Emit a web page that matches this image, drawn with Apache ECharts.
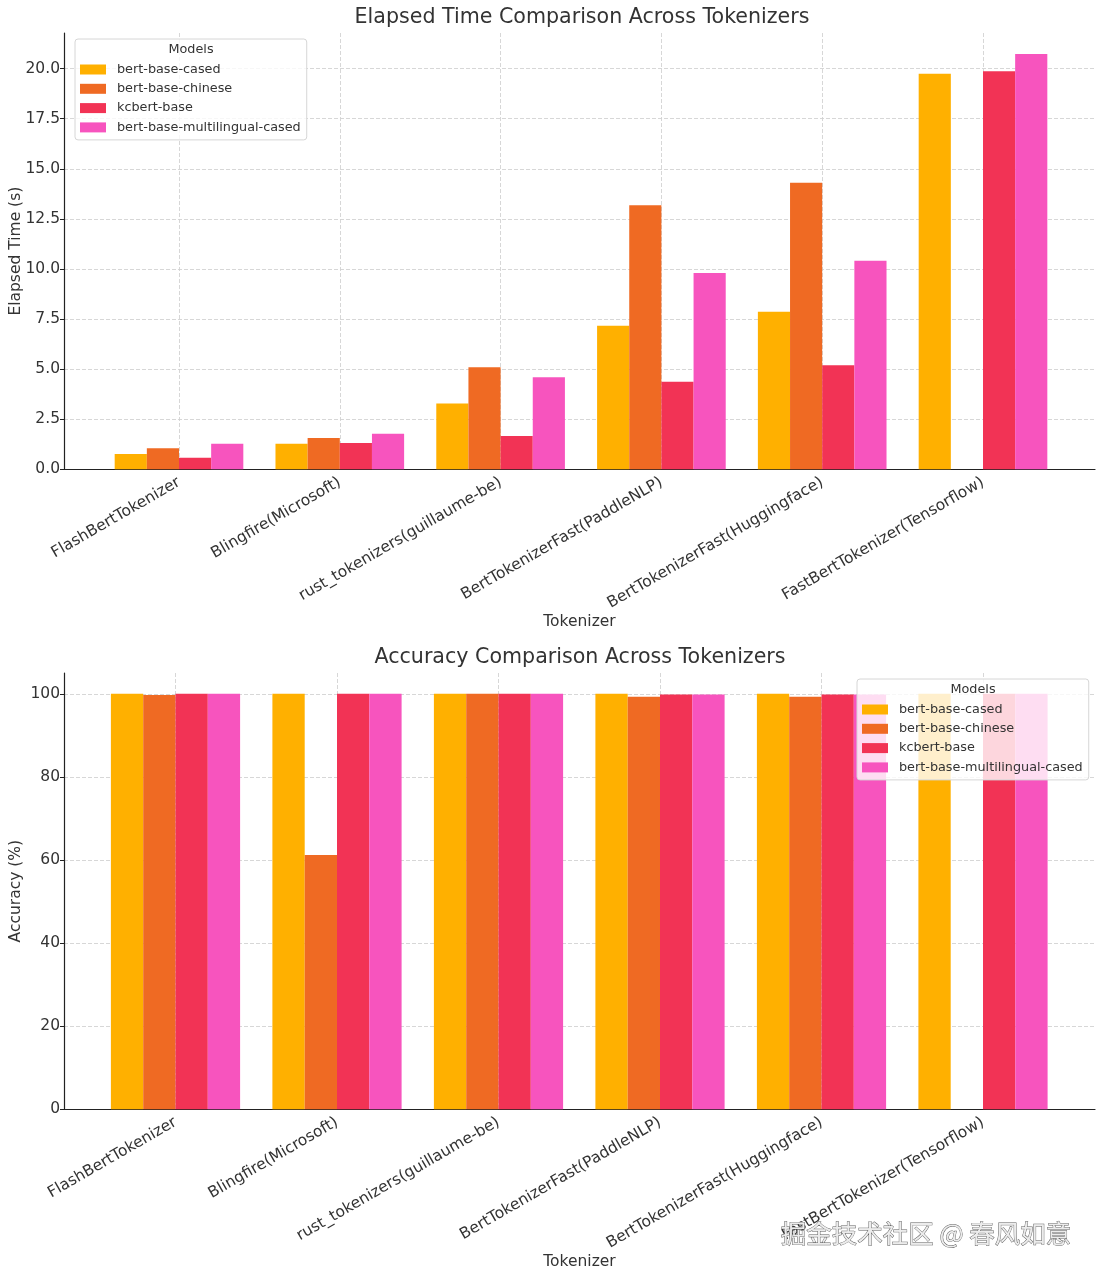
<!DOCTYPE html>
<html>
<head>
<meta charset="utf-8">
<script src="https://cdn.jsdelivr.net/npm/echarts@6/dist/echarts.min.js"></script>
<style>
html,body{margin:0;padding:0;background:#fff;}
#chart{width:1103px;height:1280px;}
</style>
</head>
<body>
<div id="chart"></div>
<script>
// ---------- data ----------
var categories = ['FlashBertTokenizer', 'Blingfire(Microsoft)', 'rust_tokenizers(guillaume-be)', 'BertTokenizerFast(PaddleNLP)', 'BertTokenizerFast(Huggingface)', 'FastBertTokenizer(Tensorflow)'];
var models = ['bert-base-cased', 'bert-base-chinese', 'kcbert-base', 'bert-base-multilingual-cased'];
var modelColors = ['#FFB000', '#EF6A23', '#F23355', '#F754BE'];

var elapsedCased    = [0.77, 1.28, 3.29, 7.17, 7.87, 19.75];
var elapsedChinese  = [1.05, 1.56, 5.09, 13.18, 14.31, null];
var elapsedKcbert   = [0.58, 1.31, 1.66, 4.37, 5.19, 19.87];
var elapsedMulti    = [1.28, 1.78, 4.59, 9.80, 10.41, 20.73];

var accuracyCased   = [100, 100, 100, 100, 100, 100];
var accuracyChinese = [99.7, 61.2, 100, 99.3, 99.3, null];
var accuracyKcbert  = [100, 100, 100, 99.8, 99.8, 100];
var accuracyMulti   = [100, 100, 100, 99.8, 99.8, 100];

var elapsedTicks = { min: 0, max: 21.78, interval: 2.5 };
var accuracyTicks = { min: 0, max: 105, interval: 20 };
// category-index range covered by the full frame (category i sits at i)
var elapsedFrameRange = { min: -0.715, max: 5.697 };
var accuracyFrameRange = { min: -0.690, max: 5.694 };

var titles = ['Elapsed Time Comparison Across Tokenizers', 'Accuracy Comparison Across Tokenizers'];
var yNames = ['Elapsed Time (s)', 'Accuracy (%)'];
var xName = 'Tokenizer';
var legendTitle = 'Models';
var watermark = '掘金技术社区 @ 春风如意';

// ---------- style ----------
var FONT = 'DejaVu Sans';
var TXT = '#333';
var GRIDC = '#d2d2d2';
var TICKFS = 15.5;

var elapsedSeries = [elapsedCased, elapsedChinese, elapsedKcbert, elapsedMulti];
var accuracySeries = [accuracyCased, accuracyChinese, accuracyKcbert, accuracyMulti];

var grids = [
  { left: 64, right: 8, top: 33, height: 436.3, outerBoundsMode: 'none', containLabel: false },          // 0 top frame
  { left: 98.6, width: 964.8, top: 33, height: 436.3, outerBoundsMode: 'none', containLabel: false },     // 1 top bars
  { left: 64, right: 8, top: 673, height: 436.3, outerBoundsMode: 'none', containLabel: false },          // 2 bottom frame
  { left: 94.75, width: 969, top: 673, height: 436.3, outerBoundsMode: 'none', containLabel: false }      // 3 bottom bars
];

function frameX(gi, r) {
  return {
    type: 'value', gridIndex: gi, min: r.min, max: r.max,
    axisLine: { show: true, onZero: false, lineStyle: { color: '#222', width: 1.2 } },
    axisTick: { show: false }, axisLabel: { show: false },
    splitLine: { show: true, showMinLine: false, showMaxLine: false, lineStyle: { color: GRIDC, type: [4, 2], width: 0.9 } },
    name: xName, nameLocation: 'middle', nameGap: 145,
    nameTextStyle: { fontFamily: FONT, fontSize: TICKFS, color: TXT }
  };
}
function barX(gi) {
  return {
    type: 'category', gridIndex: gi, data: categories,
    axisLine: { show: false }, axisTick: { show: false }, splitLine: { show: false },
    axisLabel: { interval: 0, rotate: 30, margin: 12, fontFamily: FONT, fontSize: TICKFS, color: TXT }
  };
}
function frameY(gi, t, name, fmt, gap) {
  return {
    type: 'value', gridIndex: gi, min: t.min, max: t.max, interval: t.interval,
    axisLine: { show: true, onZero: false, lineStyle: { color: '#222', width: 1.2 } },
    axisTick: { show: true, length: 4, lineStyle: { color: '#222' } },
    axisLabel: { showMaxLabel: false, margin: 4, fontFamily: FONT, fontSize: TICKFS, color: TXT, formatter: fmt },
    splitLine: { show: true, showMaxLine: false, showMinLine: false, lineStyle: { color: GRIDC, type: [4, 2], width: 0.9 } },
    name: name, nameLocation: 'middle', nameGap: gap, nameMoveOverlap: false,
    nameTextStyle: { fontFamily: FONT, fontSize: TICKFS, color: TXT }
  };
}
function barY(gi, t) {
  return { type: 'value', gridIndex: gi, min: t.min, max: t.max, show: false, splitLine: { show: false } };
}

var series = [];
function addBars(arrs, xi, yi) {
  arrs.forEach(function (arr, k) {
    series.push({
      type: 'bar', name: models[k], xAxisIndex: xi, yAxisIndex: yi, data: arr,
      barGap: '0%', barCategoryGap: '20%',
      itemStyle: { color: modelColors[k] }, emphasis: { disabled: true }, animation: false
    });
  });
}
addBars(elapsedSeries, 1, 1);
addBars(accuracySeries, 3, 3);

function legendAt(left, top) {
  return {
    data: models, orient: 'vertical', left: left, top: top,
    padding: [23, 6, 5, 5], itemWidth: 26, itemHeight: 10, itemGap: 4.3,
    backgroundColor: 'rgba(255,255,255,0.8)', borderColor: '#d6d6d6', borderWidth: 1, borderRadius: 3,
    icon: 'rect', selectedMode: false,
    textStyle: { fontFamily: FONT, fontSize: 12.8, color: TXT, lineHeight: 15, padding: [0, 0, 0, 6] }
  };
}

function txt(x, y, s, size, extra) {
  var st = { text: s, fontFamily: FONT, fontSize: size, fill: TXT, textAlign: 'center', textVerticalAlign: 'middle', align: 'center', verticalAlign: 'middle' };
  if (extra) for (var k in extra) st[k] = extra[k];
  return { type: 'text', x: x, y: y, z: 100, silent: true, style: st };
}

var option = {
  backgroundColor: '#fff',
  animation: false,
  grid: grids,
  xAxis: [frameX(0, elapsedFrameRange), barX(1), frameX(2, accuracyFrameRange), barX(3)],
  yAxis: [
    frameY(0, elapsedTicks, yNames[0], function (v) { return v.toFixed(1); }, 40),
    barY(1, elapsedTicks),
    frameY(2, accuracyTicks, yNames[1], function (v) { return String(v); }, 40),
    barY(3, accuracyTicks)
  ],
  legend: [legendAt(75, 39), legendAt(857, 679)],
  series: series,
  graphic: [
    txt(582, 18, titles[0], 20.6),
    txt(580, 658, titles[1], 20.6),
    txt(191, 50, legendTitle, 12.8),
    txt(973, 690, legendTitle, 12.8),
    txt(926, 1233, watermark, 25.5, { fontFamily: 'Noto Sans CJK SC', fill: '#ececec', stroke: '#5c5c5c', lineWidth: 0.9 })
  ]
};

var chart = echarts.init(document.getElementById('chart'), null, { renderer: 'canvas' });
chart.setOption(option);
</script>
</body>
</html>
